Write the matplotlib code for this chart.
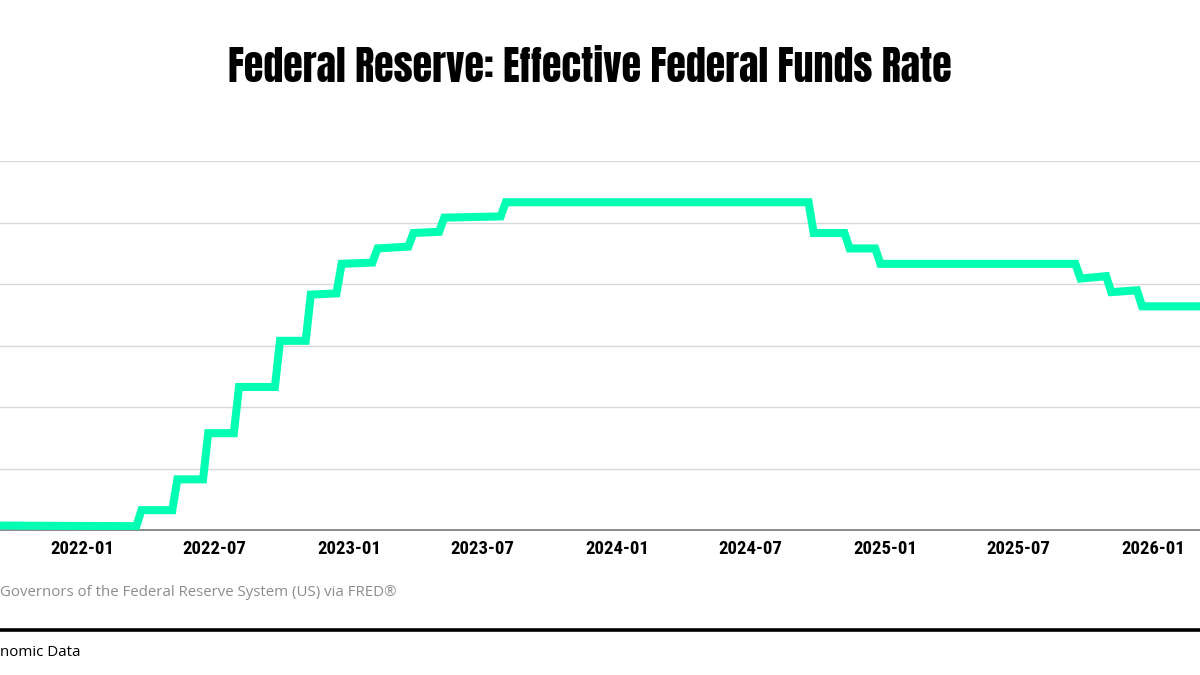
"""
Effective Federal Funds Rate, weekly, step chart
"""
import numpy as np
import matplotlib
matplotlib.use('Agg')
import matplotlib.pyplot as plt
import matplotlib.dates as mdates
from matplotlib.lines import Line2D

# Weekly observations (week ending Wednesday) around each policy change
dates = ['2021-09-01', '2022-03-16', '2022-03-23', '2022-05-04', '2022-05-11',
         '2022-06-15', '2022-06-22', '2022-07-27', '2022-08-03', '2022-09-21',
         '2022-09-28', '2022-11-02', '2022-11-09', '2022-12-14', '2022-12-21',
         '2023-02-01', '2023-02-08', '2023-03-22', '2023-03-29', '2023-05-03',
         '2023-05-10', '2023-07-26', '2023-08-02', '2024-09-18', '2024-09-25',
         '2024-11-06', '2024-11-13', '2024-12-18', '2024-12-25', '2025-09-17',
         '2025-09-24', '2025-10-29', '2025-11-05', '2025-12-10', '2025-12-17',
         '2026-03-11']
rate = [0.08, 0.07, 0.33, 0.33, 0.83,
        0.83, 1.58, 1.58, 2.33, 2.33,
        3.08, 3.08, 3.83, 3.85, 4.33,
        4.35, 4.58, 4.61, 4.83, 4.85,
        5.08, 5.10, 5.33, 5.33, 4.83,
        4.83, 4.58, 4.58, 4.33, 4.33,
        4.09, 4.13, 3.87, 3.90, 3.64,
        3.64]

title = 'Federal Reserve: Effective Federal Funds Rate'
source = 'Governors of the Federal Reserve System (US) via FRED®'
footer = 'nomic Data'

x = np.array(dates, dtype='datetime64[D]')

fig = plt.figure(figsize=(12, 6.75), dpi=100)
ax = fig.add_axes([0, 0.2141, 1, 0.5474])

ax.plot(x, rate, color='#00ffb2', lw=5.8, solid_joinstyle='miter', zorder=3)

ax.set_xlim(np.datetime64('2021-09-11'), np.datetime64('2026-03-06'))
ax.set_ylim(0, 6)
ax.set_yticks(np.arange(0, 7, 1))
ax.grid(axis='y', color='#d8d8d8', lw=1)
ax.set_axisbelow(True)

ax.xaxis.set_major_locator(mdates.MonthLocator(bymonth=[1, 7]))
ax.xaxis.set_major_formatter(mdates.DateFormatter('%Y-%m'))
ax.tick_params(axis='x', length=0, pad=7)
ax.tick_params(axis='y', length=0, labelleft=False)
for lab in ax.get_xticklabels():
    lab.set_fontfamily(['Roboto Condensed', 'DejaVu Sans'])
    lab.set_fontweight('bold')
    lab.set_fontsize(13.5)

for s in ['top', 'left', 'right']:
    ax.spines[s].set_visible(False)
ax.spines['bottom'].set_color('#777777')
ax.spines['bottom'].set_linewidth(1.2)

fig.text(590 / 1200, 1 - 67 / 675, title, ha='center', va='center',
         family=['Anton', 'DejaVu Sans'], fontsize=28.8)

fig.text(0, 1 - 593 / 675, source, ha='left', va='center',
         family='Open Sans', fontsize=10.8, color='#8c8c8c')
fig.add_artist(Line2D([0, 1], [1 - 630 / 675] * 2, transform=fig.transFigure,
                      color='black', lw=2.6))
fig.text(0, 1 - 653 / 675, footer, ha='left', va='center',
         family='Open Sans', fontsize=10.8, color='black')

fig.savefig('out.png')
plt.close(fig)
